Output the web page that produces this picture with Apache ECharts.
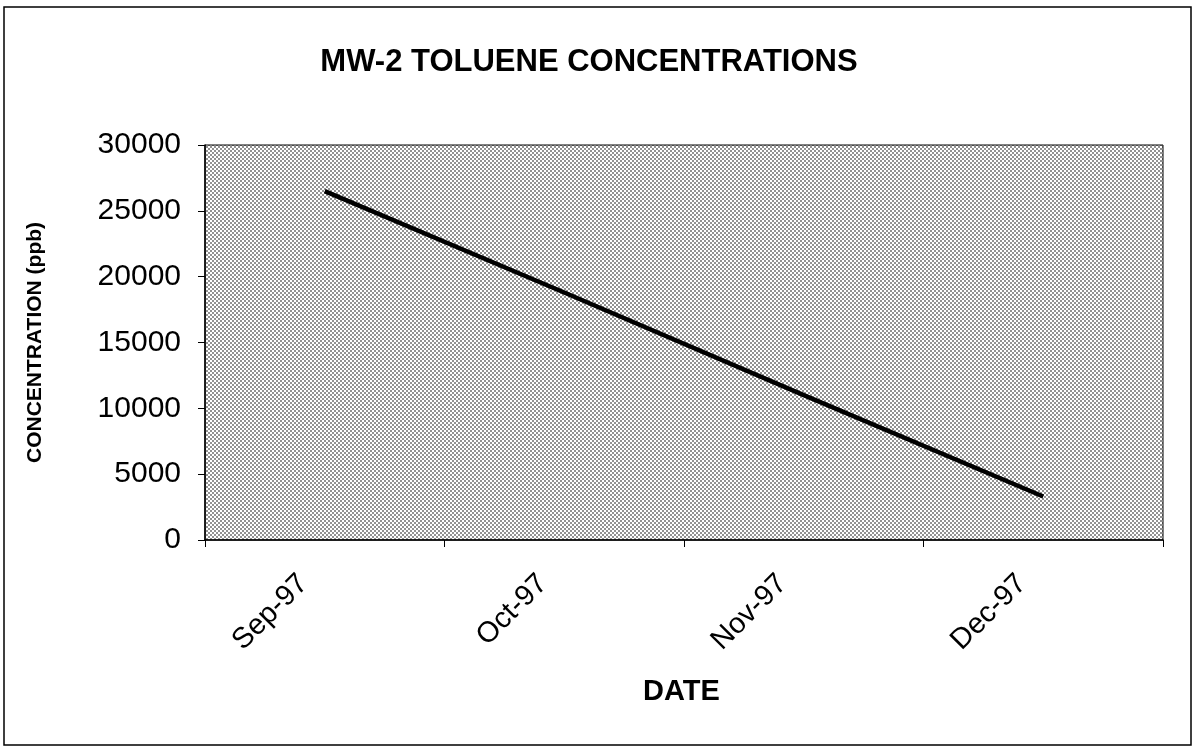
<!DOCTYPE html>
<html>
<head>
<meta charset="utf-8">
<title>MW-2 Toluene Concentrations</title>
<script src="https://cdn.jsdelivr.net/npm/echarts@6/dist/echarts.min.js"></script>
<style>
  html, body { margin: 0; padding: 0; background: #fff; }
  #chart { width: 1193px; height: 748px; }
</style>
</head>
<body>
<div id="chart"></div>
<script>
// chart values
var months = ['Sep-97', 'Oct-97', 'Nov-97', 'Dec-97'];
var toluene = [26500, 18800, 11000, 3300];
var yTicks = [0, 5000, 10000, 15000, 20000, 25000, 30000];

// halftone fill like the scanned plot area
function makeDots(){
    var c = document.createElement('canvas');
    c.width = 4;
    c.height = 4;
    var ctx = c.getContext('2d');
    ctx.fillStyle = '#ffffff';
    ctx.fillRect(0, 0, 4, 4);
    ctx.fillStyle = '#929292';
    ctx.fillRect(0, 0, 2, 2);
    ctx.fillRect(2, 2, 2, 2);
    return c;
}

var myChart = echarts.init(document.getElementById('chart'));

var font = '"Liberation Sans", Arial, Helvetica, sans-serif';

option = {
    backgroundColor: '#fff',
    animation: false,
    title: {
        text: 'MW-2 TOLUENE CONCENTRATIONS',
        left: 584,
        top: 42,
        textAlign: 'center',
        textStyle: {fontFamily: font, fontSize: 31, fontWeight: 'bold', color: '#000'}
    },
    graphic: [{
        type: 'rect',
        shape: {x: 4, y: 7, width: 1187, height: 738},
        style: {fill: null, stroke: '#000', lineWidth: 1.5},
        silent: true
    }],
    grid: {
        left: 205,
        right: 30,
        top: 145,
        bottom: 208,
        show: true,
        backgroundColor: {image: makeDots(), repeat: 'repeat'},
        borderColor: '#000',
        borderWidth: 1
    },
    xAxis: {
        type: 'category',
        data: months,
        boundaryGap: true,
        name: 'DATE',
        nameLocation: 'middle',
        nameGap: 137,
        nameTextStyle: {fontFamily: font, fontSize: 29, fontWeight: 'bold', color: '#000', padding: [0, 5, 0, 0]},
        axisLine: {lineStyle: {color: '#000', width: 1.5}},
        axisTick: {show: true, inside: false, length: 7, alignWithLabel: false, lineStyle: {color: '#000'}},
        axisLabel: {
            rotate: 45,
            margin: 18,
            padding: [0, 30, 0, 0],
            fontFamily: font,
            fontSize: 29,
            color: '#000'
        },
        splitLine: {show: false}
    },
    yAxis: {
        type: 'value',
        min: yTicks[0],
        max: yTicks[yTicks.length - 1],
        interval: yTicks[1] - yTicks[0],
        name: 'CONCENTRATION (ppb)',
        nameLocation: 'middle',
        nameRotate: 90,
        nameGap: 159,
        nameTextStyle: {fontFamily: font, fontSize: 21, fontWeight: 'bold', color: '#000'},
        axisLine: {show: true, lineStyle: {color: '#000', width: 1.5}},
        axisTick: {show: true, inside: false, length: 7, lineStyle: {color: '#000'}},
        axisLabel: {
            margin: 24,
            fontFamily: font,
            fontSize: 30,
            color: '#000',
            formatter: function (v) { return String(v); }
        },
        splitLine: {show: false}
    },
    series: [{
        name: 'Toluene',
        type: 'line',
        data: toluene,
        symbol: 'none',
        lineStyle: {color: '#000', width: 4.5},
        z: 5
    }]
};

myChart.setOption(option);
</script>
</body>
</html>
